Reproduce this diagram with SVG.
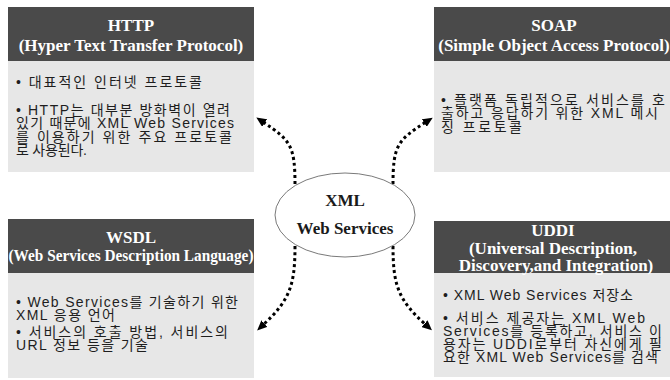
<svg xmlns="http://www.w3.org/2000/svg" width="670" height="380" viewBox="0 0 670 380">
<style>
.hd{fill:#4a4a4a}
.bd{fill:#e7e7e7}
.tt{font-family:"Liberation Serif","Times New Roman",serif;font-weight:bold;font-size:17px;fill:#fff;text-anchor:middle}
.tx{font-family:"Liberation Sans","Noto Sans CJK KR",sans-serif;font-size:14px;fill:#1e1e1e}
.ct{font-family:"Liberation Serif","Times New Roman",serif;font-weight:bold;font-size:17px;fill:#1a1a1a;text-anchor:middle}
.ar{fill:none;stroke:#000;stroke-width:3;stroke-dasharray:3 3;marker-end:url(#ah)}
</style>
<defs>
<marker id="ah" markerUnits="userSpaceOnUse" markerWidth="11" markerHeight="9" refX="2" refY="4.5" orient="auto">
<path d="M0,0 L10,4.5 L0,9 z" fill="#000"/>
</marker>
</defs>
<rect width="670" height="380" fill="#fff"/>

<g id="http">
<rect class="hd" x="8" y="7" width="246" height="54"/>
<rect class="bd" x="8" y="61" width="246" height="111"/>
<text class="tt" x="131" y="31">HTTP</text>
<text class="tt" x="131" y="51">(Hyper Text Transfer Protocol)</text>
<text class="tx" x="16" y="87" textLength="186" lengthAdjust="spacing">• 대표적인 인터넷 프로토콜</text>
<text class="tx" x="16" y="115" textLength="214" lengthAdjust="spacing">• HTTP는 대부분 방화벽이 열려</text>
<text class="tx" x="16" y="128" textLength="218" lengthAdjust="spacing">있기 때문에 XML Web Services</text>
<text class="tx" x="16" y="142" textLength="216" lengthAdjust="spacing">를 이용하기 위한 주요 프로토콜</text>
<text class="tx" x="16" y="155" textLength="71" lengthAdjust="spacing">로 사용된다.</text>
</g>

<g id="soap">
<rect class="hd" x="434" y="7" width="236" height="54"/>
<rect class="bd" x="434" y="61" width="236" height="111"/>
<text class="tt" x="554" y="31">SOAP</text>
<text class="tt" x="554" y="51">(Simple Object Access Protocol)</text>
<text class="tx" x="441" y="105" textLength="224" lengthAdjust="spacing">• 플랫폼 독립적으로 서비스를 호</text>
<text class="tx" x="441" y="118" textLength="217" lengthAdjust="spacing">출하고 응답하기 위한 XML 메시</text>
<text class="tx" x="441" y="132" textLength="81" lengthAdjust="spacing">징 프로토콜</text>
</g>

<g id="wsdl">
<rect class="hd" x="8" y="219" width="246" height="54"/>
<rect class="bd" x="8" y="273" width="246" height="105"/>
<text class="tt" x="131" y="243">WSDL</text>
<text class="tt" x="131" y="261" textLength="245" lengthAdjust="spacingAndGlyphs">(Web Services Description Language)</text>
<text class="tx" x="16" y="307" textLength="222" lengthAdjust="spacing">• Web Services를 기술하기 위한</text>
<text class="tx" x="16" y="320" textLength="99" lengthAdjust="spacing">XML 응용 언어</text>
<text class="tx" x="16" y="337" textLength="212" lengthAdjust="spacing">• 서비스의 호출 방법, 서비스의</text>
<text class="tx" x="16" y="350" textLength="132" lengthAdjust="spacing">URL 정보 등을 기술</text>
</g>

<g id="uddi">
<rect class="hd" x="434" y="221" width="236" height="52"/>
<rect class="bd" x="434" y="273" width="236" height="104"/>
<text class="tt" x="553" y="236">UDDI</text>
<text class="tt" x="553" y="254">(Universal Description,</text>
<text class="tt" x="556" y="271">Discovery,and Integration)</text>
<text class="tx" x="443" y="300" textLength="190" lengthAdjust="spacing">• XML Web Services 저장소</text>
<text class="tx" x="443" y="323" textLength="202" lengthAdjust="spacing">• 서비스 제공자는 XML Web</text>
<text class="tx" x="443" y="336" textLength="219" lengthAdjust="spacing">Services를 등록하고, 서비스 이</text>
<text class="tx" x="443" y="349" textLength="219" lengthAdjust="spacing">용자는 UDDI로부터 자신에게 필</text>
<text class="tx" x="443" y="362" textLength="215" lengthAdjust="spacing">요한 XML Web Services를 검색</text>
</g>

<g id="connectors">
<path class="ar" d="M295,184 C295,145 290,140 263,122"/>
<path class="ar" d="M393,184 C393,145 398,140 426,122"/>
<path class="ar" d="M295,246 C295,285 290,300 263,325"/>
<path class="ar" d="M393,246 C393,285 398,300 426,325"/>
</g>

<g id="xmlws">
<ellipse cx="345" cy="215" rx="70" ry="42" fill="#fff" stroke="#7a7a7a" stroke-width="1"/>
<text class="ct" x="345" y="206">XML</text>
<text class="ct" x="345" y="234">Web Services</text>
</g>
</svg>
